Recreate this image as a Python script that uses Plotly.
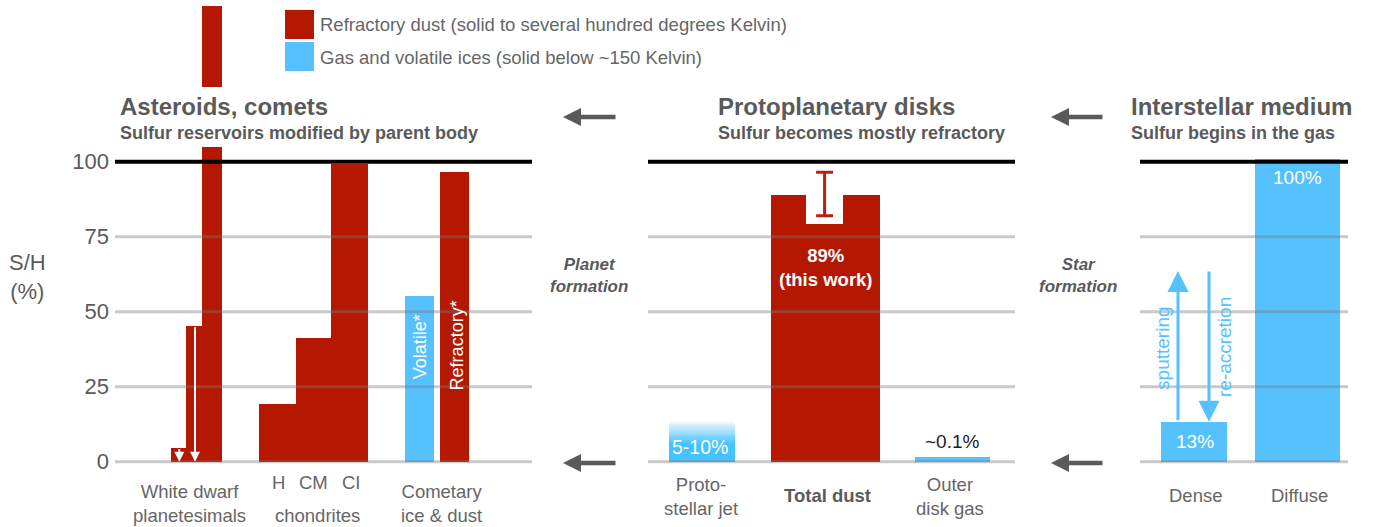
import plotly.graph_objects as go

# ---------------- data (S/H, percent) ----------------
red_labels = ["White dwarf (upper limit a)", "White dwarf (upper limit b)", "White dwarf",
              "H", "CM", "CI", "Refractory*", "Total dust"]
red_values = [4.7, 45.3, 152.0, 19.2, 41.2, 99.2, 96.6, 89.0]

blue_labels = ["Volatile*", "Outer disk gas", "Dense", "Diffuse"]
blue_values = [55.2, 1.7, 13.3, 100.9]

jet_label = "Proto-stellar jet"
jet_value = 13.3

dust_value = 89.0
dust_err_plus = [7.5]
dust_err_minus = [7.0]

sputter_top = 63.6       # extent of sputtering / re-accretion arrows
y_ticks = [0, 25, 50, 75, 100]
y_ticktext = ["0", "25", "50", "75", "100"]

# ---------------- layout positions (pixel-like x units) ----------------
red_x = [178.5, 194, 212, 277.5, 313.5, 349.5, 454.5, 825.5]
red_w = [15, 16, 20, 37, 35, 37, 29, 109]
blue_x = [419.5, 952.5, 1194, 1297.5]
blue_w = [29, 75, 66, 85]
jet_x, jet_w = 702, 66
notch_x, notch_w, notch_base = 824.6, 37.3, 79.1
panels = [(115, 532), (648, 1015), (1140, 1348)]

RED = "#B41800"
BLUE = "#56C1FF"
GRAY_TXT = "#5a5a5a"
LBL = "#666666"
FONT = "Liberation Sans, Arial, sans-serif"

fig = go.Figure()

fig.add_trace(go.Bar(x=red_x, y=red_values, width=red_w, base=0, marker_color=RED,
                     marker_line_width=0, name="Refractory dust", hovertext=red_labels,
                     showlegend=False))
fig.add_trace(go.Bar(x=blue_x, y=blue_values, width=blue_w, base=0, marker_color=BLUE,
                     marker_line_width=0, name="Gas and volatile ices", hovertext=blue_labels,
                     showlegend=False))

# gradient jet bar built from slices of jet_value
n_fade = 12
solid_frac = 0.45
solid_h = jet_value * solid_frac
slice_h = (jet_value - solid_h) / n_fade
bases = [0] + [solid_h + i * slice_h for i in range(n_fade)]
heights = [solid_h] + [slice_h] * n_fade
alphas = [1.0] + [1.0 - 0.92 * (i + 0.5) / n_fade for i in range(n_fade)]
cols = ["rgba(69,195,255,%.3f)" % a for a in alphas]
fig.add_trace(go.Bar(x=[jet_x] * len(bases), y=heights, base=bases, width=jet_w,
                     marker_color=cols, marker_line_width=0, name=jet_label,
                     showlegend=False))

# white notch in the total dust bar
fig.add_trace(go.Bar(x=[notch_x], y=[dust_value + 1 - notch_base], base=notch_base,
                     width=notch_w, marker_color="white", marker_line_width=0,
                     showlegend=False, hoverinfo="skip"))

# error bar of total dust
fig.add_trace(go.Scatter(x=[notch_x], y=[dust_value], mode="markers",
                         marker=dict(size=1, color="rgba(0,0,0,0)"),
                         error_y=dict(type="data", symmetric=False, array=dust_err_plus,
                                      arrayminus=dust_err_minus, color="#BE1E12",
                                      thickness=3, width=8.5),
                         showlegend=False))

shapes = []
for (x0, x1) in panels:
    for v in y_ticks:
        if v == 100:
            shapes.append(dict(type="line", xref="x", yref="y", x0=x0, x1=x1, y0=v, y1=v,
                               line=dict(color="black", width=4), layer="above"))
        else:
            shapes.append(dict(type="line", xref="x", yref="y", x0=x0, x1=x1, y0=v, y1=v,
                               line=dict(color="rgba(120,120,120,0.4)", width=3),
                               layer="above"))
# gap in the off-scale white dwarf bar
shapes.append(dict(type="rect", xref="x", yref="y", x0=199, x1=225, y0=104.9, y1=124.9,
                   fillcolor="white", line=dict(width=0), layer="above"))
# legend squares
shapes.append(dict(type="rect", xref="x", yref="y", x0=285, x1=314, y0=140.9, y1=150.6,
                   fillcolor=RED, line=dict(width=0), layer="above"))
shapes.append(dict(type="rect", xref="x", yref="y", x0=285, x1=314, y0=130.2, y1=139.9,
                   fillcolor=BLUE, line=dict(width=0), layer="above"))

ann = []


def txt(x, y, s, size=18.5, color=LBL, xanchor="center", bold=False, italic=False,
        angle=0, family=FONT):
    if bold:
        s = "<b>" + s + "</b>"
    if italic:
        s = "<i>" + s + "</i>"
    ann.append(dict(x=x, y=y, xref="x", yref="y", text=s, showarrow=False,
                    xanchor=xanchor, yanchor="middle", textangle=angle,
                    font=dict(size=size, color=color, family=family)))


def arrow(x, y, ax, ay, color, width, size, head=2):
    ann.append(dict(x=x, y=y, ax=ax, ay=ay, xref="x", yref="y", axref="x", ayref="y",
                    text="", showarrow=True, arrowhead=head, arrowwidth=width,
                    arrowsize=size, arrowcolor=color, standoff=0, startstandoff=0))


# legend text
txt(318, 145.6, "Refractory dust (solid to several hundred degrees Kelvin)", 18.5, LBL, "left")
txt(318, 134.9, "Gas and volatile ices (solid below ~150 Kelvin)", 18.5, LBL, "left")

# panel titles
for x0, t, s in [(119, "Asteroids, comets", "Sulfur reservoirs modified by parent body"),
                 (717, "Protoplanetary disks", "Sulfur becomes mostly refractory"),
                 (1130, "Interstellar medium", "Sulfur begins in the gas")]:
    txt(x0 - 1, 118.4, t, 24, GRAY_TXT, "left", bold=True)
    txt(x0 - 1, 109.6, s, 18, GRAY_TXT, "left", bold=True)

# axis title
txt(27, 61.6, "S/H<br>(%)", 22, GRAY_TXT)

# category labels
txt(189, -14.1, "White dwarf<br>planetesimals")
txt(278, -7.1, "H")
txt(313, -7.1, "CM")
txt(351, -7.1, "CI")
txt(317, -17.8, "chondrites")
txt(441, -14.1, "Cometary<br>ice & dust")
txt(701, -11.6, "Proto-<br>stellar jet")
txt(827, -11.4, "Total dust", 18.5, GRAY_TXT, bold=True)
txt(950, -11.6, "Outer<br>disk gas")
txt(1195, -11.4, "Dense")
txt(1299, -11.4, "Diffuse")

# in-bar labels
txt(419.5, 38.3, "Volatile*", 18, "white", angle=-90)
txt(456.5, 38.6, "Refractory*", 18, "white", angle=-90)
txt(826, 64.8, "%d%%<br>(this work)" % round(dust_value), 18.5, "white", bold=True)
txt(700, 4.9, "5-10%", 19.5, "white")
txt(952, 6.6, "~0.1%", 19, "#222222")
txt(1195, 6.6, "%d%%" % round(blue_values[2]), 19, "white")
txt(1297, 94.6, "%d%%" % round(min(blue_values[3], 100)), 19, "white")
txt(1163, 37.6, "sputtering", 19, BLUE, angle=-90)
txt(1224, 38.2, "re-accretion", 19, BLUE, angle=-90)

# transition labels
txt(589, 61.9, "Planet<br>formation", 17, GRAY_TXT, bold=True, italic=True)
txt(1078, 61.9, "Star<br>formation", 17, GRAY_TXT, bold=True, italic=True)

# gray flow arrows
for (hx, tx) in [(563, 617), (1051, 1104)]:
    for yy in [114.9, -0.4]:
        arrow(hx, yy, tx, yy, "#5a5a5a", 4.5, 0.8)

# sputtering / re-accretion
arrow(1178, sputter_top, 1178, blue_values[2], BLUE, 3, 1.4)
arrow(1209, blue_values[2], 1209, sputter_top + 0.3, BLUE, 3, 1.4)

# white dwarf upper-limit arrows
arrow(179.3, 0, 179.3, red_values[0], "white", 2, 1.0)
arrow(195, 0, 195, red_values[1], "white", 2, 1.0)

fig.update_layout(
    width=1377, height=527,
    margin=dict(l=0, r=0, t=0, b=0),
    paper_bgcolor="white", plot_bgcolor="white",
    barmode="overlay", bargap=0,
    font=dict(family=FONT, color=LBL),
    showlegend=False,
    shapes=shapes, annotations=ann,
    xaxis=dict(range=[0, 1377], visible=False, fixedrange=True, domain=[0, 1]),
    yaxis=dict(range=[-21.77, 153.9], tickvals=y_ticks, ticktext=y_ticktext,
               showgrid=False, zeroline=False, showline=False, ticks="",
               anchor="free", position=115 / 1377, automargin=False,
               tickfont=dict(size=22, color=GRAY_TXT, family=FONT),
               ticklabelstandoff=6, fixedrange=True),
)

fig.write_html("out.html", config={"displayModeBar": False},
               post_script="document.body.style.margin='0';"
                           "document.body.style.overflow='hidden';")
